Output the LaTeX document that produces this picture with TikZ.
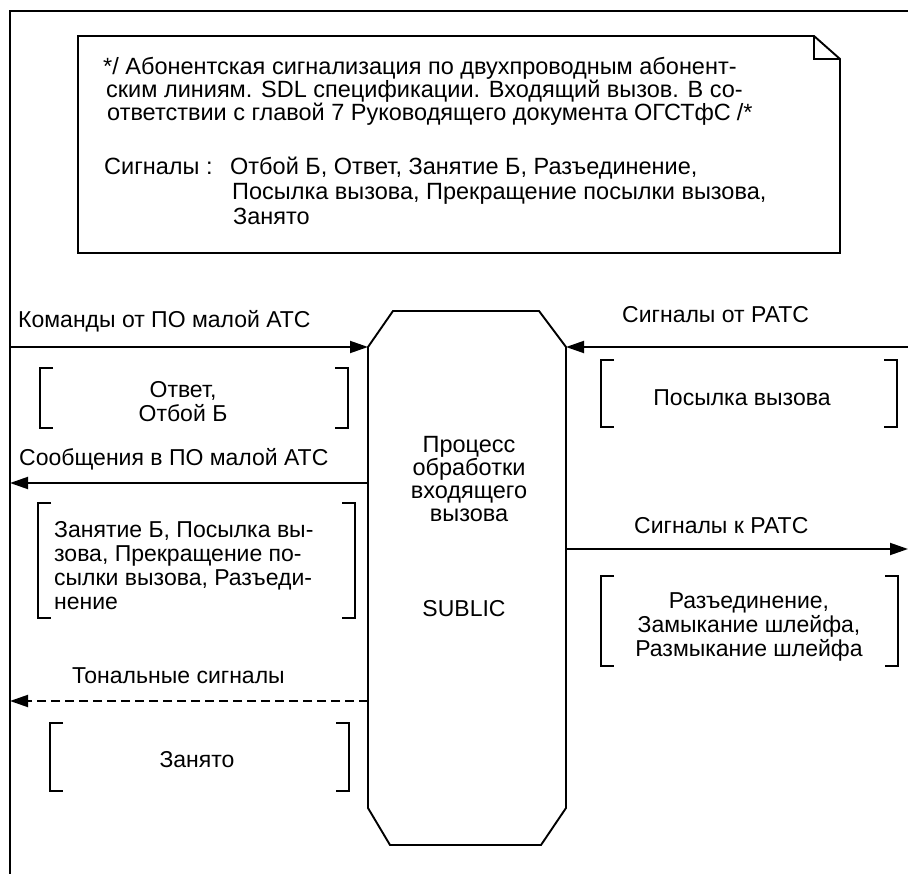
\documentclass[tikz,border=0pt]{standalone}
\usepackage{fontspec}
\setmainfont{Liberation Sans}
\usetikzlibrary{arrows.meta}

% draws the pair of square brackets that enclose a signal list
\newcommand\sigbrackets[1]{%
  \draw[bracket] ([xshift=13pt]#1.north west) -- (#1.north west) -- (#1.south west) -- ([xshift=13pt]#1.south west);
  \draw[bracket] ([xshift=-13pt]#1.north east) -- (#1.north east) -- (#1.south east) -- ([xshift=-13pt]#1.south east);}

\begin{document}
\begin{tikzpicture}[x=1pt,y=-1pt,
  frame/.style={line width=1.9pt,line join=miter},
  bracket/.style={line width=1.8pt},
  flow/.style={line width=1.9pt,-{Triangle[length=18pt,width=12pt]}},
  tone/.style={flow,dash pattern=on 9pt off 5pt},
  sigset/.style={draw=none,inner sep=0pt,outer sep=0pt},
  label/.style={inner sep=0pt,anchor=base west,font=\fontsize{23}{23}\selectfont},
  listtext/.style={inner sep=0pt,font=\fontsize{23}{24}\selectfont},
  notetext/.style={inner sep=0pt,anchor=base west,font=\fontsize{23.5}{23}\selectfont},
  procbox/.style={draw=none,inner sep=0pt,outer sep=0pt,minimum width=198pt,minimum height=534pt}
]
\useasboundingbox (0,0) rectangle (908,874);

% system frame (open to the right and below)
\draw[frame] (908,11) -- (10,11) -- (10,874);

% comment symbol with folded corner
\node[sigset,minimum width=762pt,minimum height=217pt] (note) at (459,144.5) {};
\draw[frame] (note.south west) -- (note.north west) -- ([xshift=-26pt]note.north east)
  -- ([yshift=-23pt]note.north east) -- (note.south east) -- cycle;
\draw[frame] ([xshift=-26pt]note.north east) -- ([xshift=-26pt,yshift=-23pt]note.north east)
  -- ([yshift=-23pt]note.north east);

\node[notetext] (n1) at (103,74.5) {*/ Абонентская сигнализация по двухпроводным абонент-};
\node[notetext] (n2) at (106,97.5) {ским линиям. SDL спецификации. Входящий вызов. В со-};
\node[notetext] (n3) at (107,120.5) {ответствии с главой 7 Руководящего документа ОГСТфС\hspace{6pt}/*};
\node[notetext] (n4) at (104,174.5) {Сигналы :};
\node[notetext] (n5) at (230,174.5) {Отбой Б, Ответ, Занятие Б, Разъединение,};
\node[notetext] (n6) at (232,199.5) {Посылка вызова, Прекращение посылки вызова,};
\node[notetext] (n7) at (233,224.5) {Занято};

% process symbol
\node[procbox] (proc) at (467,578) {};
\draw[frame] ([xshift=25pt]proc.north west) -- ([xshift=-27pt]proc.north east)
  -- ([yshift=-36pt]proc.north east) -- ([yshift=37pt]proc.south east)
  -- ([xshift=-25pt]proc.south east) -- ([xshift=22pt]proc.south west)
  -- ([yshift=37pt]proc.south west) -- ([yshift=-36pt]proc.north west) -- cycle;
\node[listtext,align=center,font=\fontsize{23.5}{23}\selectfont] (procname) at (469,479.5)
  {Процесс\\обработки\\входящего\\вызова};
\node[listtext] (procid) at (464,609) {SUBLIC};

% arrow end points on the process symbol and on the frame
\coordinate (pin1) at (368,347);
\coordinate (pin2) at (566,347);
\coordinate (pout1) at (368,483);
\coordinate (pout2) at (566,549);
\coordinate (pout3) at (368,701);
\coordinate (env1) at (10,347);
\coordinate (env2) at (908,347);
\coordinate (env3) at (10,483);
\coordinate (env4) at (908,549);
\coordinate (env5) at (10,701);

\draw[flow] (env1) -- (pin1);
\draw[flow] (env2) -- (pin2);
\draw[flow] (pout1) -- (env3);
\draw[flow] (pout2) -- (env4);
\draw[tone] (pout3) -- (env5);

% channel labels
\node[label] (lcmd) at (18,328) {Команды от ПО малой АТС};
\node[label] (lmsg) at (19,466) {Сообщения в ПО малой АТС};
\node[label] (lfrom) at (622,323) {Сигналы от РАТС};
\node[label] (lto) at (634,533) {Сигналы к РАТС};
\node[label] (ltone) at (72,683) {Тональные сигналы};

% signal lists
\node[sigset,minimum width=308pt,minimum height=60pt] (s1) at (194,398) {};
\sigbrackets{s1}
\node[listtext,align=center] (t1) at (183,401.5) {Ответ,\\Отбой Б};

\node[sigset,minimum width=317pt,minimum height=115pt] (s2) at (196.5,560.5) {};
\sigbrackets{s2}
\node[listtext,align=left,anchor=west] (t2) at (54,566)
  {Занятие Б, Посылка вы-\\зова, Прекращение по-\\сылки вызова, Разъеди-\\нение};

\node[sigset,minimum width=299pt,minimum height=68pt] (s3) at (199.5,757) {};
\sigbrackets{s3}
\node[listtext] (t3) at (197,760) {Занято};

\node[sigset,minimum width=296pt,minimum height=67pt] (s4) at (749,393.5) {};
\sigbrackets{s4}
\node[listtext] (t4) at (742,398) {Посылка вызова};

\node[sigset,minimum width=297pt,minimum height=90pt] (s5) at (749.5,621) {};
\sigbrackets{s5}
\node[listtext,align=center] (t5) at (749,626.5)
  {Разъединение,\\Замыкание шлейфа,\\Размыкание шлейфа};
\end{tikzpicture}
\end{document}
